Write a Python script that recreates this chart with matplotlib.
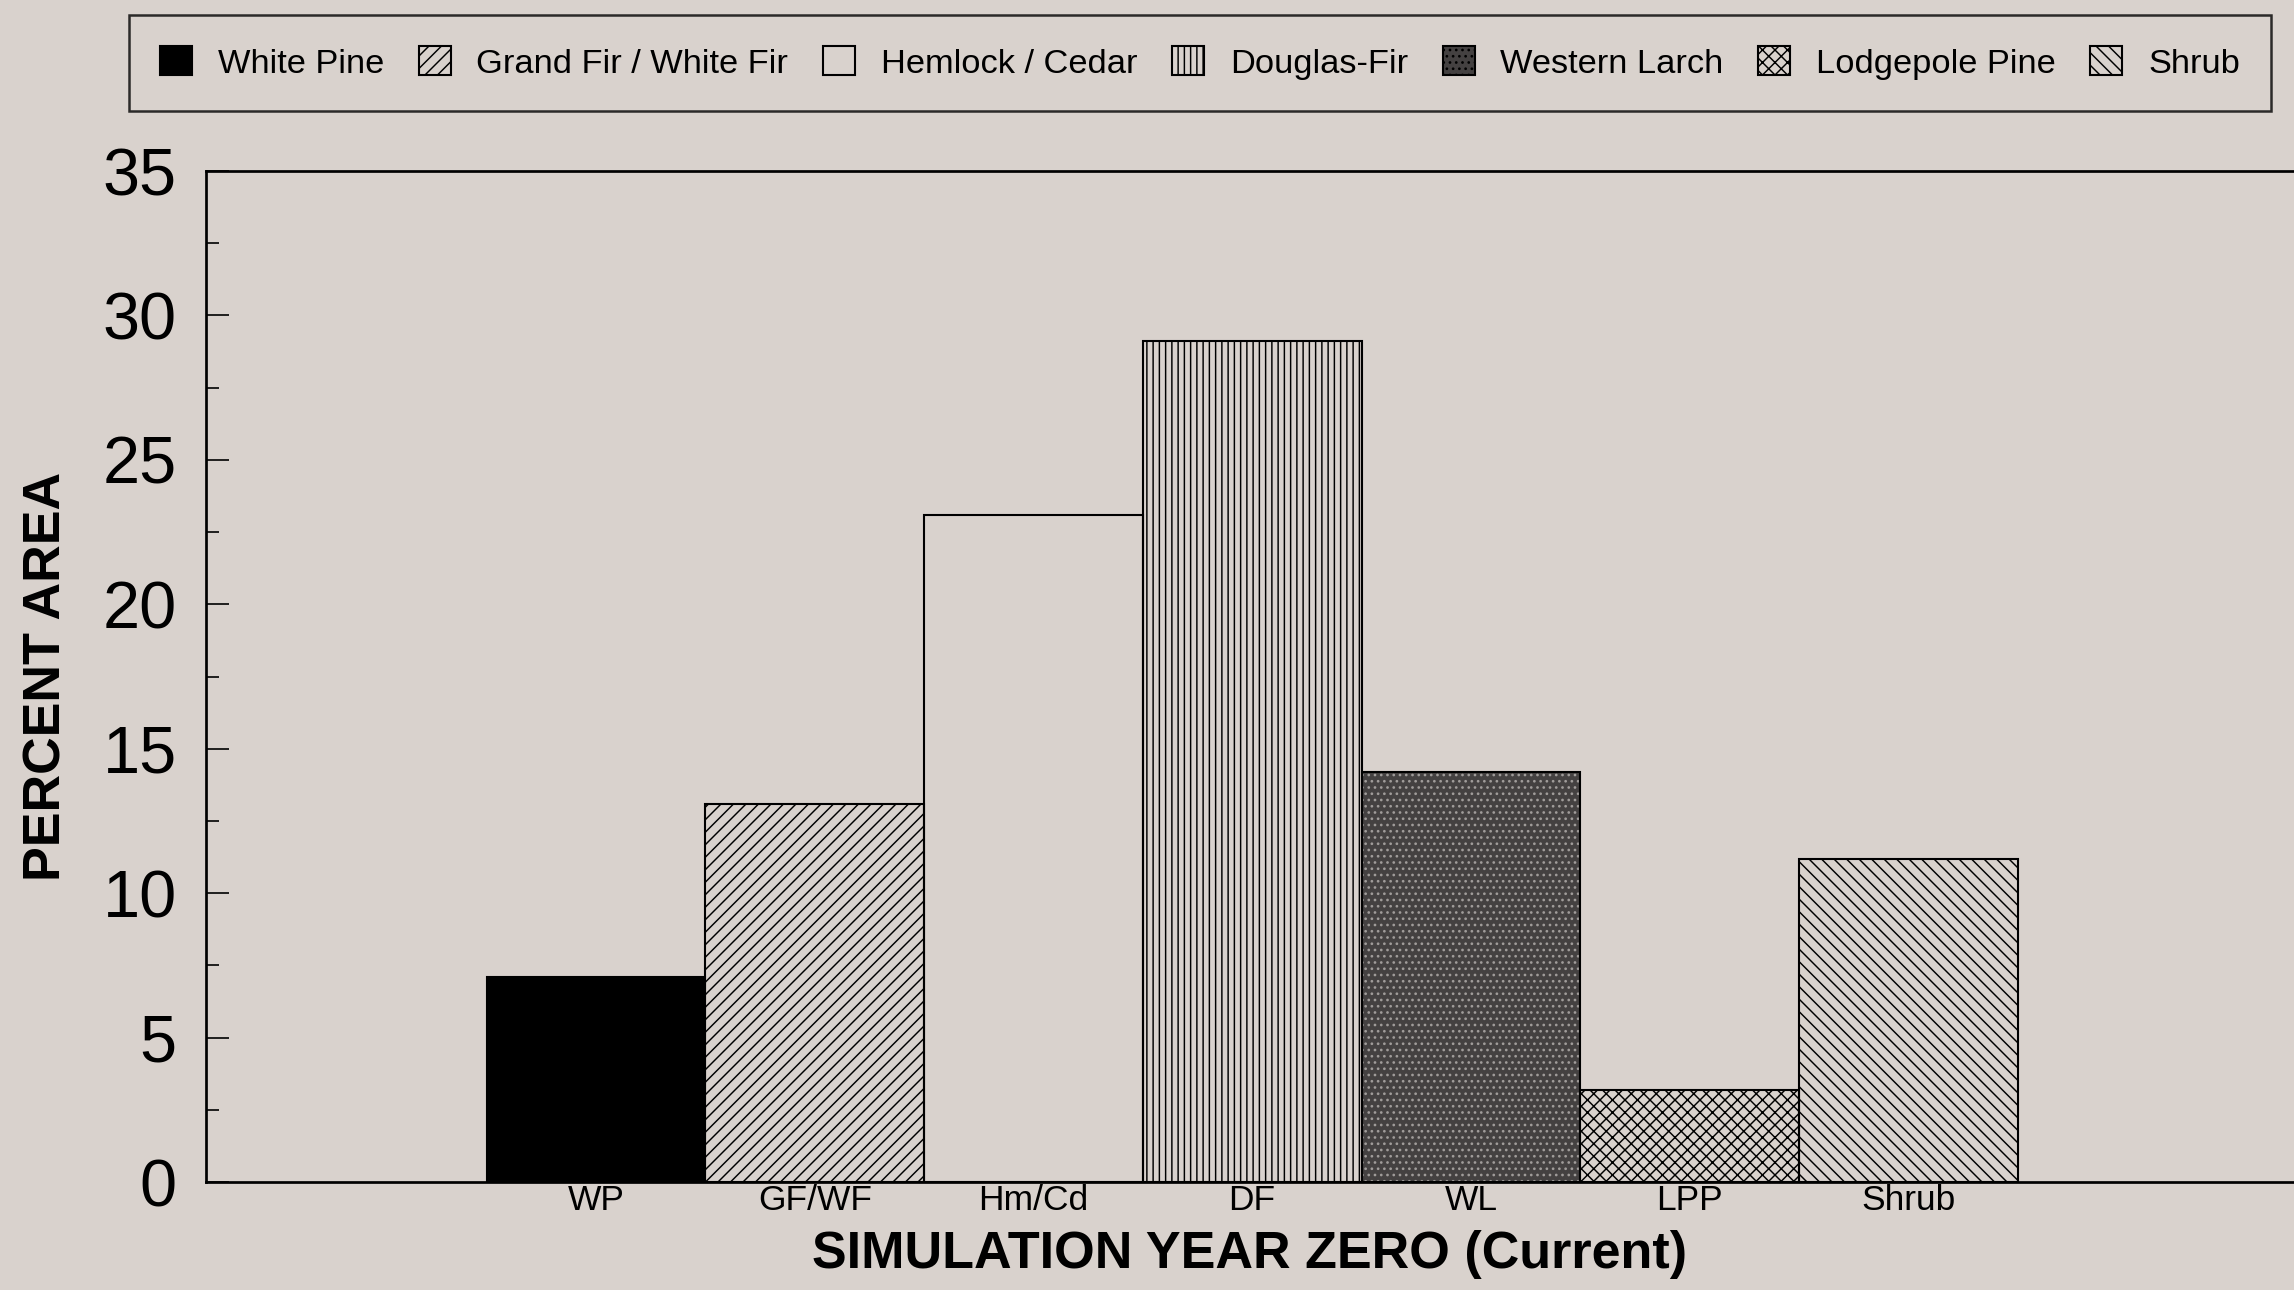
import matplotlib as mpl
mpl.use('Agg')
from matplotlib import pyplot as plt
from matplotlib.patches import Patch
import numpy as np

# data
codes = ['WP', 'GF/WF', 'Hm/Cd', 'DF', 'WL', 'LPP', 'Shrub']
names = ['White Pine', 'Grand Fir / White Fir', 'Hemlock / Cedar', 'Douglas-Fir',
         'Western Larch', 'Lodgepole Pine', 'Shrub']
percent_area = [7.1, 13.1, 23.1, 29.1, 14.2, 3.2, 11.2]

yticks = [0, 5, 10, 15, 20, 25, 30, 35]

# styles
bg = '#d9d2cd'
faces = ['black', 'none', 'none', 'none', '#444141', 'none', 'none']
hatches = [None, '////', None, '||||', '....', 'xxxx', '\\\\\\\\']
hatch_cols = ['black', 'black', 'black', 'black', '#a09c9a', 'black', 'black']

plt.rcParams['hatch.linewidth'] = 0.7
plt.rcParams['font.family'] = ['Liberation Sans', 'DejaVu Sans']

fig = plt.figure(figsize=(2294 / 150, 1290 / 150), dpi=150)
fig.patch.set_facecolor(bg)
ax = fig.add_axes([0.0898, 0.0837, 0.9102, 0.7837])
ax.set_facecolor(bg)

x = np.arange(len(codes))
for i in range(len(codes)):
    # fill + hatch first, then a clean black outline on top
    ax.bar(x[i], percent_area[i], width=1.0, color=faces[i], hatch=hatches[i],
           edgecolor=hatch_cols[i], linewidth=0, zorder=2)
    ax.bar(x[i], percent_area[i], width=1.0, color='none',
           edgecolor='black', linewidth=1.0, zorder=3)

ax.set_xlim(-1.784, 7.764)
ax.set_ylim(0, 35)
ax.set_yticks(yticks)
ax.set_yticks(np.arange(2.5, 35, 5), minor=True)
ax.set_xticks(x)
ax.set_xticklabels(codes, fontsize=17)

ax.tick_params(axis='y', which='major', direction='in', length=11, width=0.8,
               labelsize=32, pad=14)
ax.tick_params(axis='y', which='minor', direction='in', length=6, width=0.8)
ax.tick_params(axis='x', length=0, pad=1)

for s in ['left', 'bottom', 'top']:
    ax.spines[s].set_linewidth(1.3)
ax.spines['right'].set_visible(False)

ax.set_xlabel('SIMULATION YEAR ZERO (Current)', fontsize=25,
              fontweight='bold', labelpad=6)
ax.set_ylabel('PERCENT AREA', fontsize=25, fontweight='bold', labelpad=15)

handles = []
for i in range(len(names)):
    handles.append(Patch(facecolor=faces[i], hatch=hatches[i],
                         edgecolor='black', linewidth=1.0, label=names[i]))

leg = fig.legend(handles=handles, loc='upper left',
                 bbox_to_anchor=(0.0562, 0.9186, 0.9338, 0.0695),
                 mode='expand', ncol=7, prop={'size': 16.5},
                 handlelength=0.93, handleheight=0.93, handletextpad=0.75,
                 columnspacing=0.9, borderaxespad=0, fancybox=False,
                 frameon=True, borderpad=0.9)
leg.get_frame().set_edgecolor('black')
leg.get_frame().set_facecolor(bg)
leg.get_frame().set_linewidth(1.2)

plt.savefig('out.png', dpi=150, facecolor=bg)
plt.close()
